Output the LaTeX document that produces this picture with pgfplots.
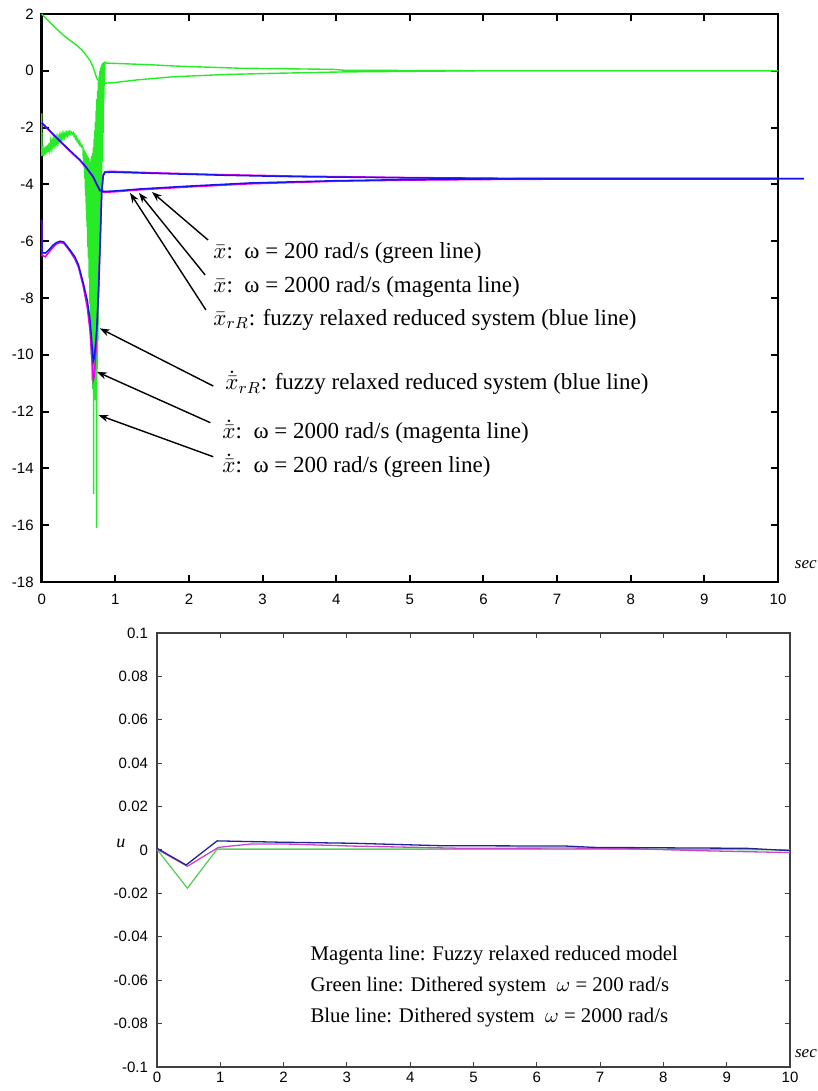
\RequirePackage{fix-cm}
\documentclass[border=0pt]{standalone}
\usepackage{fontspec}
\setmainfont{Liberation Sans}
\newfontfamily\annot{Liberation Serif}
\usepackage{pgfplots}
\pgfplotsset{compat=1.18}
\usetikzlibrary{arrows.meta}

\definecolor{mgreen}{RGB}{40,235,40}
\definecolor{mblue}{RGB}{20,20,240}
\definecolor{mmag}{RGB}{230,0,230}
\definecolor{bgreen}{RGB}{90,205,90}
\definecolor{bblue}{RGB}{35,35,150}
\definecolor{bmag}{RGB}{200,70,200}

\begin{document}
\begin{tikzpicture}[x=1pt,y=1pt]
\useasboundingbox (0,0) rectangle (409,545.5);
% ---------------- top axis ----------------
\begin{axis}[
  at={(20.85pt,254.5pt)}, anchor=south west, scale only axis,
  width=368.15pt, height=284pt,
  xmin=0, xmax=10, ymin=-18, ymax=2,
  xtick={0,1,...,10}, ytick={-18,-16,...,2},
  tick align=inside, major tick length=3.5pt,
  axis line style={line width=1.2pt},
  tick style={line width=1pt, black},
  ticklabel style={font=\fontsize{7.5}{8.5}\selectfont},
  xticklabel style={yshift=-2.5pt},
  yticklabel style={xshift=-0.5pt},
  /pgf/number format/assume math mode=true,
  clip=false,
]
% green A
\addplot[mgreen, line width=0.7pt] coordinates {
(0,2) (0.1,1.74) (0.2,1.48) (0.3,1.24) (0.4,1.04) (0.475,0.9) (0.55,0.72) (0.6,0.56)
(0.656,0.36) (0.7,0.12) (0.747,-0.26) (0.78,-0.38) (0.84,-0.44) (1.0,-0.41) (1.3,-0.32)
(1.79,-0.21) (2.5,-0.13) (3.14,-0.09) (4.1,-0.04) (5.0,-0.02) (5.9,0) (10,0)
};
% green B (dithered, oscillating)
\addplot[mgreen, line width=0.7pt] coordinates {
(0,-1.5) (0.003,-3.0) (0.02,-2.75) (0.03,-3.0) (0.04,-2.7) (0.05,-2.95) (0.06,-2.65) (0.07,-2.9)
(0.08,-2.6) (0.09,-2.85) (0.10,-2.55) (0.11,-2.78) (0.12,-2.5) (0.13,-2.72) (0.14,-2.47) (0.15,-2.67)
(0.16,-2.43) (0.17,-2.62) (0.18,-2.4) (0.19,-2.58) (0.20,-2.37) (0.21,-2.54) (0.22,-2.33) (0.23,-2.5)
(0.24,-2.3) (0.25,-2.45) (0.26,-2.27) (0.27,-2.42) (0.28,-2.24) (0.29,-2.38) (0.30,-2.22) (0.31,-2.34)
(0.32,-2.2) (0.33,-2.3) (0.34,-2.18) (0.35,-2.27) (0.36,-2.16) (0.37,-2.24) (0.38,-2.15) (0.39,-2.22)
(0.40,-2.15) (0.42,-2.22) (0.43,-2.18) (0.44,-2.3) (0.45,-2.25) (0.46,-2.38) (0.47,-2.33) (0.48,-2.46)
(0.49,-2.41) (0.50,-2.54) (0.51,-2.49) (0.52,-2.62) (0.53,-2.57) (0.54,-2.68) (0.55,-2.64)
(0.560,-2.70) (0.565,-3.10) (0.570,-2.75) (0.575,-3.40) (0.580,-2.80) (0.585,-3.80) (0.590,-2.85)
(0.595,-4.40) (0.600,-2.90) (0.605,-4.90) (0.610,-2.95) (0.615,-5.50) (0.620,-3.00) (0.625,-6.20)
(0.630,-3.05) (0.635,-6.60) (0.640,-3.10) (0.645,-7.30) (0.650,-3.20) (0.655,-8.20) (0.660,-3.20)
(0.665,-9.10) (0.670,-3.10) (0.675,-10.00) (0.680,-3.00) (0.685,-10.90) (0.690,-2.90) (0.695,-11.20)
(0.700,-2.70) (0.705,-14.90) (0.710,-2.40) (0.715,-11.40) (0.720,-2.10) (0.725,-11.60) (0.730,-1.80)
(0.735,-11.40) (0.740,-1.40) (0.745,-16.10) (0.750,-1.00) (0.755,-10.50) (0.760,-0.70) (0.765,-9.50)
(0.770,-0.40) (0.775,-8.00) (0.780,-0.20) (0.785,-7.00) (0.790,0.00) (0.795,-6.00) (0.800,0.10)
(0.805,-5.00) (0.810,0.18) (0.815,-4.10) (0.820,0.24) (0.825,-3.20) (0.830,0.28) (0.835,-2.20)
(0.840,0.30) (0.845,-1.00) (0.850,0.30) (0.855,-0.20) (0.860,0.30) (0.880,0.27) (1.0,0.26)
(1.5,0.21) (1.79,0.17) (2.0,0.15) (2.69,0.09) (3.5,0.065) (3.96,0.05) (4.1,0.02) (5,0.01) (6,0) (10,0)
};
% magenta x-bar
\addplot[mmag, line width=0.75pt] coordinates {
(0,-1.85) (0.1,-2.1) (0.2,-2.37) (0.3,-2.62) (0.4,-2.87) (0.52,-3.16) (0.6,-3.4) (0.7,-3.76)
(0.75,-4.03) (0.79,-4.23) (0.85,-4.28) (1.0,-4.26) (1.34,-4.19) (2.0,-4.09) (2.83,-3.98)
(4.0,-3.89) (5.0,-3.85) (6.5,-3.82) (10,-3.81)
};
% magenta x-dot
\addplot[mmag, line width=0.75pt] coordinates {
(0,-5.25) (0.005,-6.5) (0.05,-6.55) (0.1,-6.38) (0.15,-6.22) (0.2,-6.1) (0.25,-6.05) (0.3,-6.07)
(0.385,-6.36) (0.45,-6.62) (0.5,-6.92) (0.565,-7.6) (0.62,-8.35) (0.656,-9.15) (0.685,-10.3)
(0.70,-10.9) (0.715,-10.75) (0.74,-9.7) (0.77,-7.7) (0.795,-5.9) (0.815,-4.25) (0.835,-3.66)
(0.86,-3.55) (0.95,-3.54) (1.5,-3.59) (2.5,-3.66) (3.5,-3.71) (5,-3.76) (6.5,-3.79) (10,-3.79)
};
% blue x-bar_rR
\addplot[mblue, line width=0.75pt] coordinates {
(0,-1.83) (0.1,-2.08) (0.2,-2.35) (0.3,-2.6) (0.4,-2.85) (0.52,-3.14) (0.6,-3.38) (0.7,-3.73)
(0.75,-4.0) (0.79,-4.2) (0.85,-4.25) (1.0,-4.23) (1.34,-4.16) (2.0,-4.06) (2.83,-3.95)
(4.0,-3.87) (5.0,-3.83) (6.5,-3.8) (10.35,-3.8)
};
% blue x-dot_rR
\addplot[mblue, line width=0.75pt] coordinates {
(0,-5.25) (0.005,-6.4) (0.05,-6.42) (0.1,-6.3) (0.15,-6.15) (0.2,-6.05) (0.25,-6.0) (0.3,-6.03)
(0.385,-6.31) (0.45,-6.55) (0.5,-6.84) (0.565,-7.48) (0.62,-8.1) (0.656,-8.77) (0.685,-9.7)
(0.70,-10.24) (0.715,-10.1) (0.747,-9.13) (0.775,-7.6) (0.795,-6.0) (0.815,-4.3) (0.835,-3.7)
(0.86,-3.58) (0.95,-3.57) (1.5,-3.61) (2.5,-3.68) (3.5,-3.73) (5,-3.77) (6.5,-3.8) (10.35,-3.8)
};
% arrows
\begin{scope}[-{Stealth[length=5pt,width=3.6pt]}, line width=0.7pt]
\draw (axis cs:2.26,-5.96) -- (axis cs:1.498,-4.27);
\draw (axis cs:2.22,-7.19) -- (axis cs:1.32,-4.30);
\draw (axis cs:2.23,-8.42) -- (axis cs:1.20,-4.30);
\draw (axis cs:2.33,-11.1) -- (axis cs:0.79,-9.07);
\draw (axis cs:2.29,-12.39) -- (axis cs:0.75,-10.6);
\draw (axis cs:2.33,-13.59) -- (axis cs:0.77,-12.12);
\end{scope}
\begin{scope}[every node/.style={anchor=west, inner sep=0pt, font=\annot\fontsize{11.5}{13}\selectfont}]
\node at (axis cs:2.327,-6.42) {$\bar{x}$:\ \ ω = 200 rad/s (green line)};
\node at (axis cs:2.327,-7.61) {$\bar{x}$:\ \ ω = 2000 rad/s (magenta line)};
\node at (axis cs:2.327,-8.77) {$\bar{x}_{rR}$: fuzzy relaxed reduced system (blue line)};
\node at (axis cs:2.49,-10.99) {$\dot{\bar{x}}_{rR}$: fuzzy relaxed reduced system (blue line)};
\node at (axis cs:2.45,-12.72) {$\dot{\bar{x}}$:\ \ ω = 2000 rad/s (magenta line)};
\node at (axis cs:2.45,-13.92) {$\dot{\bar{x}}$:\ \ ω = 200 rad/s (green line)};
\end{scope}
\node[anchor=east, inner sep=0pt, font=\annot\itshape\fontsize{8.5}{10}\selectfont] at (axis cs:10.53,-17.4) {sec};
\end{axis}
% ---------------- bottom axis ----------------
\begin{axis}[
  at={(78.5pt,12pt)}, anchor=south west, scale only axis,
  width=316.5pt, height=217pt,
  xmin=0, xmax=10, ymin=-0.1, ymax=0.1,
  xtick={0,1,...,10},
  ytick={-0.1,-0.08,-0.06,-0.04,-0.02,0,0.02,0.04,0.06,0.08,0.1},
  yticklabels={-0.1,-0.08,-0.06,-0.04,-0.02,0,0.02,0.04,0.06,0.08,0.1},
  tick align=inside, major tick length=2.5pt,
  axis line style={line width=0.55pt, black!75},
  tick style={line width=0.5pt, black!75},
  ticklabel style={font=\fontsize{7.5}{8.5}\selectfont},
  xticklabel style={yshift=1pt},
  yticklabel style={xshift=-1pt},
  /pgf/number format/assume math mode=true,
  clip=false,
]
\addplot[bgreen, line width=0.65pt] coordinates {
(0,0.0003) (0.48,-0.0176) (0.95,0.0004) (2,0.0004) (4,0.0004) (6,0.0004) (8,0.0003) (10,0.0001)
};
\addplot[bmag, line width=0.65pt] coordinates {
(0,0.0004) (0.48,-0.0075) (0.97,0.0012) (1.49,0.0028) (2.0,0.0028) (3.1,0.0018) (4.8,0.0008)
(6.5,0.0009) (7.4,0.0007) (8.55,-0.0003) (10,-0.0012)
};
\addplot[bblue, line width=0.65pt] coordinates {
(0,0.0008) (0.46,-0.0069) (0.95,0.0042) (1.93,0.0036) (3.1,0.0031) (4.46,0.002) (6.47,0.0018)
(6.9,0.0012) (8.55,0.0009) (9.3,0.0008) (10,-0.0003)
};
\begin{scope}[every node/.style={anchor=west, inner sep=0pt, font=\annot\fontsize{10.4}{12}\selectfont}]
\node at (axis cs:2.42,-0.0488) {Magenta line: Fuzzy relaxed reduced model};
\node at (axis cs:2.42,-0.0631) {Green line: Dithered system\ \ $\omega$ = 200 rad/s};
\node at (axis cs:2.42,-0.0774) {Blue line: Dithered system\ \ $\omega$ = 2000 rad/s};
\end{scope}
\node[anchor=east, inner sep=0pt, font=\annot\itshape\fontsize{8.5}{10}\selectfont] at (axis cs:10.43,-0.094) {sec};
\node[anchor=center, inner sep=0pt, font=\annot\itshape\fontsize{9}{10}\selectfont] at (axis cs:-0.57,0.0028) {u};
\end{axis}
\end{tikzpicture}
\end{document}
